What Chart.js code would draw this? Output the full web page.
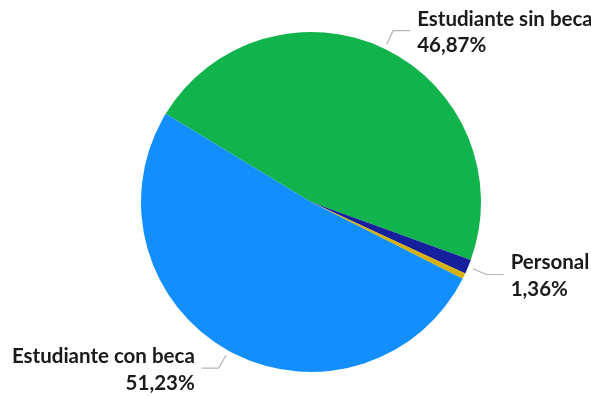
<!DOCTYPE html>
<html>
<head>
<meta charset="utf-8">
<script src="https://cdn.jsdelivr.net/npm/chart.js@4/dist/chart.umd.min.js"></script>
<style>
  html, body { margin: 0; padding: 0; background: #fff; }
  #wrap { width: 591px; height: 396px; }
</style>
</head>
<body>
<div id="wrap"><canvas id="pieChart"></canvas></div>
<script>
// categorias y porcentajes
var categorias = ['Estudiante sin beca', 'Personal', '', 'Estudiante con beca'];
var porcentajes = [46.87, 1.36, 0.54, 51.23];
var colores = ['#10b34c', '#16209c', '#d6b102', '#128ffd'];

function formatoPct(v) {
    return v.toFixed(2).replace('.', ',') + '%';
}

// etiquetas fuera de la torta con linea guia
var etiquetasExternas = {
    id: 'etiquetasExternas',
    afterDatasetsDraw: function (chart) {
        var ctx = chart.ctx;
        var meta = chart.getDatasetMeta(0);
        ctx.save();
        ctx.font = 'bold 20.5px Lato';
        ctx.fillStyle = '#1a1a1a';
        ctx.strokeStyle = '#b4b4b4';
        ctx.lineWidth = 1.2;
        meta.data.forEach(function (arc, i) {
            if (!categorias[i]) return;
            var p = arc.getProps(['x', 'y', 'startAngle', 'endAngle', 'outerRadius'], true);
            var mid = (p.startAngle + p.endAngle) / 2;
            var cos = Math.cos(mid), sin = Math.sin(mid);
            var x0 = p.x + cos * (p.outerRadius + 5);
            var y0 = p.y + sin * (p.outerRadius + 5);
            var x1 = p.x + cos * (p.outerRadius + 20);
            var y1 = p.y + sin * (p.outerRadius + 20);
            var derecha = cos >= 0;
            var x2 = x1 + (derecha ? 17 : -17);
            ctx.beginPath();
            ctx.moveTo(x0, y0);
            ctx.lineTo(x1, y1);
            ctx.lineTo(x2, y1);
            ctx.stroke();
            var tx = x2 + (derecha ? 7 : -7);
            ctx.textAlign = derecha ? 'left' : 'right';
            ctx.textBaseline = 'alphabetic';
            ctx.fillText(categorias[i], tx, y1 - 5);
            ctx.fillText(formatoPct(porcentajes[i]), tx, y1 + 21.5);
        });
        ctx.restore();
    }
};

var ctx = document.getElementById('pieChart').getContext('2d');
new Chart(ctx, {
    type: 'pie',
    data: {
        labels: categorias,
        datasets: [{
            data: porcentajes,
            backgroundColor: colores,
            borderWidth: 0
        }]
    },
    options: {
        responsive: true,
        maintainAspectRatio: false,
        animation: false,
        rotation: -58.75,
        layout: { padding: { left: 141, right: 110, top: 32, bottom: 24 } },
        plugins: {
            legend: { display: false },
            tooltip: { enabled: false }
        }
    },
    plugins: [etiquetasExternas]
});
</script>
</body>
</html>
